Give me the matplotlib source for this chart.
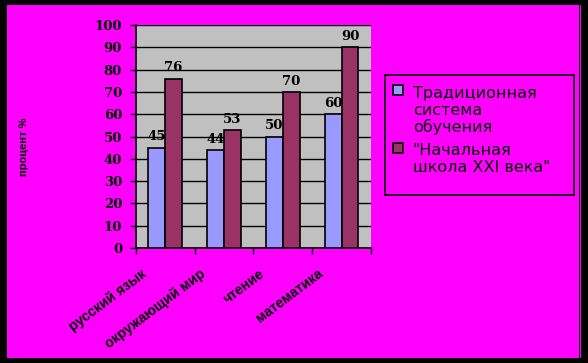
import matplotlib

matplotlib.use("Agg")
import matplotlib.pyplot as plt
import matplotlib.transforms as mtransforms
from matplotlib.patches import Rectangle
import numpy as np

# Data
subjects = ["русский язык", "окружающий мир", "чтение", "математика"]
traditional = [45, 44, 50, 60]
school_21 = [76, 53, 70, 90]
series_names = ["Традиционная\nсистема\nобучения", "\"Начальная\nшкола XXI века\""]
y_ticks = list(range(0, 101, 10))

MAGENTA = "#FF00FF"
BLUE = "#9999FF"
MAROON = "#993366"
GRAY = "#C0C0C0"

W, H = 588, 363
fig = plt.figure(figsize=(W / 100, H / 100), dpi=100, facecolor=MAGENTA)


def px_box(x0, y0, x1, y1):
    """Pixel box (top-left origin) -> figure fraction (left, bottom, w, h)."""
    return x0 / W, 1 - y1 / H, (x1 - x0) / W, (y1 - y0) / H


# black frame around the picture
for x0, y0, x1, y1 in [(0, 0, 7, H), (0, 0, W, 5), (0, 357.5, W, H),
                       (581, 0, W, H), (579, 0, 580, 358)]:
    l, b, w, h = px_box(x0, y0, x1, y1)
    fig.patches.append(Rectangle((l, b), w, h, transform=fig.transFigure,
                                 facecolor="black", edgecolor="none", zorder=0))

ax = fig.add_axes(px_box(135.7, 25, 371, 248))
ax.set_facecolor(GRAY)

x = np.arange(len(subjects)) + 0.5
bw = 0.285
ax.bar(x - bw / 2, traditional, bw, color=BLUE, edgecolor="black", linewidth=1.2, zorder=3)
ax.bar(x + bw / 2, school_21, bw, color=MAROON, edgecolor="black", linewidth=1.2, zorder=3)

num_font = dict(family="DejaVu Serif", fontweight="bold", fontsize=9.5, color="black")
for xi, v in zip(x - bw / 2, traditional):
    ax.annotate(str(v), (xi, v), xytext=(0, 3), textcoords="offset points",
                ha="center", va="bottom", zorder=4, **num_font)
for xi, v in zip(x + bw / 2, school_21):
    ax.annotate(str(v), (xi, v), xytext=(0, 3), textcoords="offset points",
                ha="center", va="bottom", zorder=4, **num_font)

ax.set_xlim(0, len(subjects))
ax.set_ylim(0, 100)
ax.set_yticks(y_ticks)
ax.set_yticklabels([str(t) for t in y_ticks], **num_font)
ax.set_xticks(range(len(subjects) + 1))
ax.set_xticklabels([])
ax.tick_params(axis="y", direction="out", length=4.3, width=1, pad=5.5, colors="black")
ax.tick_params(axis="x", direction="out", length=4, width=1)
ax.grid(axis="y", color="black", linewidth=1, zorder=1)
ax.set_axisbelow(True)
for side in ("top", "right"):
    ax.spines[side].set_visible(False)
for side in ("left", "bottom"):
    ax.spines[side].set_linewidth(1.2)
    ax.spines[side].set_color("black")

# rotated category labels
shift = mtransforms.ScaledTranslation(-20 / 100, -24 / 100, fig.dpi_scale_trans)
for xi, name in zip(x, subjects):
    ax.text(xi, 0, name, transform=ax.get_xaxis_transform() + shift,
            rotation=37, rotation_mode="anchor", ha="right", va="center",
            family="Liberation Sans", fontweight="bold", fontsize=10)

# y-axis title (mostly cut off in the original)
fig.text(24 / W, 1 - 147 / H, "процент %", rotation=90, ha="center", va="center",
         family="Liberation Sans", fontweight="bold", fontsize=8)

# legend
l, b, w, h = px_box(385, 75, 574, 195)
fig.patches.append(Rectangle((l, b), w, h, transform=fig.transFigure,
                             facecolor=MAGENTA, edgecolor="black", linewidth=1.2))
entries = [(BLUE, series_names[0], 85, [97.7, 115, 132]),
           (MAROON, series_names[1], 143, [155, 172])]
for color, label, sq_top, baselines in entries:
    l, b, w, h = px_box(393, sq_top, 403, sq_top + 10)
    fig.patches.append(Rectangle((l, b), w, h, transform=fig.transFigure,
                                 facecolor=color, edgecolor="black", linewidth=1.2))
    for line, base in zip(label.split("\n"), baselines):
        fig.text(413 / W, 1 - base / H, line, ha="left", va="baseline",
                 family="DejaVu Sans", fontsize=11.5, color="black")

fig.savefig("out.png", dpi=100, facecolor=MAGENTA)
